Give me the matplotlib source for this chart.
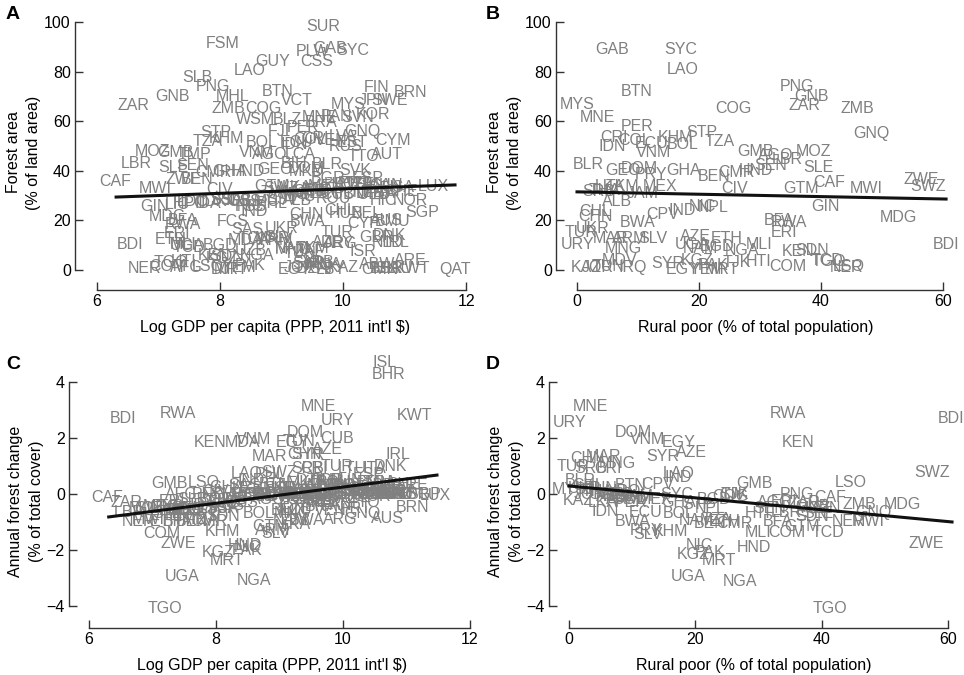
import numpy as np
import matplotlib
matplotlib.use('Agg')
import matplotlib.pyplot as plt

plt.rcParams['font.family'] = ['Liberation Sans', 'DejaVu Sans']

nan = np.nan

# countries for the GDP panels (A, C)
gdp_codes = ['FSM', 'SLB', 'PNG', 'GNB', 'ZAR', 'LAO', 'GUY', 'MHL', 'ZMB', 'COG',
             'BTN', 'VCT', 'WSM', 'STP', 'TZA', 'KHM', 'BOL', 'MOZ', 'GMB', 'TMP',
             'VNM', 'AGO', 'LBR', 'SLE', 'SEN', 'GHA', 'HND', 'CMR', 'ZWE', 'BEN',
             'CAF', 'MWI', 'GTM', 'CIV', 'GIN', 'MDG', 'ERI', 'UGA', 'BGD', 'BDI',
             'KEN', 'SDN', 'NGA', 'TGO', 'NER', 'AFG', 'MRT', 'KGZ', 'PAK', 'TCD',
             'ETH', 'RWA', 'LSO', 'MLI', 'BFA', 'DJI', 'YEM', 'NIC', 'HTI', 'COM',
             'FCS', 'SAS', 'TON', 'IND', 'SUR', 'PLW', 'GAB', 'SYC', 'CSS', 'FIN',
             'BRN', 'SWE', 'MYS', 'KOR', 'JPN', 'SVN', 'PAN', 'MNE', 'BLZ', 'BRA',
             'PER', 'CRI', 'FJI', 'COL', 'ECU', 'RUS', 'EST', 'LVA', 'CYM', 'AUT',
             'TTO', 'LCA', 'VEN', 'BIH', 'GEO', 'DOM', 'IDN', 'GNQ', 'BLR', 'SVK',
             'MKD', 'BGR', 'ESP', 'LTU', 'PRT', 'CZE', 'HRV', 'CAN', 'EMU', 'LUX',
             'MEX', 'LKA', 'USA', 'DEU', 'SWZ', 'UMC', 'THA', 'SRB', 'CHE', 'ITA',
             'NZL', 'JAM', 'FRA', 'POL', 'WLD', 'CUB', 'OED', 'MIC', 'EAS', 'ROU',
             'HIC', 'NOR', 'ALB', 'LMC', 'SSF', 'PHL', 'CHL', 'SGP', 'HUN', 'BEL',
             'CHN', 'AUS', 'BMU', 'BWA', 'CYP', 'UKR', 'TUR', 'DNK', 'SLV', 'GBR',
             'MAR', 'ARM', 'AZE', 'NLD', 'ARG', 'IRL', 'URY', 'NAM', 'TKM', 'MNG',
             'ISR', 'ZAF', 'UZB', 'TUN', 'ARE', 'ARB', 'SYR', 'MNA', 'ABW', 'IRQ',
             'KAZ', 'JOR', 'DZA', 'SAU', 'ISL', 'BHR', 'KWT', 'QAT', 'OMN', 'EGY',
             'LBY', 'MDA', 'LIC', 'HPC', 'IDA', 'IDB', 'IDX', 'LDC', 'SST', 'OSS',
             'PSS', 'SSA']
log_gdp = [8.05, 7.63, 7.89, 7.22, 6.59, 8.49, 8.85, 8.20, 8.13, 8.70,
           8.93, 9.25, 8.57, 7.93, 7.80, 8.11, 8.68, 6.91, 7.27, 7.59,
           8.60, 8.81, 6.63, 7.24, 7.56, 8.16, 8.45, 7.89, 7.40, 7.63,
           6.29, 6.94, 8.85, 8.00, 6.94, 7.14, 7.30, 7.46, 8.00, 6.54,
           7.90, 8.11, 8.60, 7.20, 6.78, 7.46, 8.17, 8.03, 8.49, 7.50,
           7.20, 7.40, 7.80, 7.40, 7.40, 8.05, 8.30, 8.50, 7.40, 7.15,
           8.20, 8.45, 8.57, 8.56, 9.67, 9.50, 9.79, 10.16, 9.58, 10.55,
           11.09, 10.76, 10.08, 10.49, 10.50, 10.23, 9.90, 9.62, 9.09, 9.65,
           9.35, 9.55, 8.95, 9.45, 9.25, 10.05, 10.15, 10.00, 10.81, 10.72,
           10.33, 9.30, 9.80, 9.20, 8.90, 9.40, 9.20, 10.31, 9.75, 10.20,
           9.40, 9.75, 10.40, 10.15, 10.20, 10.25, 9.95, 10.70, 10.50, 11.46,
           9.70, 9.25, 10.90, 10.70, 9.00, 9.50, 9.60, 9.45, 10.95, 10.50,
           10.40, 9.00, 10.60, 10.10, 9.50, 9.91, 10.50, 9.20, 9.30, 9.85,
           10.65, 11.10, 9.25, 8.70, 8.10, 8.85, 9.95, 11.28, 10.05, 10.39,
           9.40, 10.70, 10.81, 9.43, 10.33, 9.00, 9.90, 10.75, 8.95, 10.55,
           8.85, 8.90, 9.75, 10.72, 9.95, 10.87, 9.91, 9.17, 9.50, 9.20,
           10.33, 9.45, 8.50, 9.30, 11.09, 9.60, 9.45, 9.70, 10.55, 9.60,
           10.00, 9.30, 9.50, 10.85, 10.66, 10.71, 11.13, 11.82, 10.60, 9.21,
           9.80, 8.41, 7.30, 7.50, 7.80, 8.30, 7.90, 7.55, 9.00, 8.40,
           8.50, 8.10]
forest_gdp = [91.5, 77.4, 73.8, 69.8, 66.5, 80.6, 83.9, 69.8, 65.3, 65.3,
              71.8, 68.5, 60.5, 55.6, 51.6, 53.2, 51.2, 47.6, 47.2, 46.4,
              47.2, 46.4, 43.1, 41.5, 42.3, 39.9, 39.9, 39.1, 36.3, 36.3,
              35.5, 32.7, 33.5, 32.5, 25.4, 21.4, 14.9, 9.7, 9.7, 10.1,
              6.0, 5.6, 6.0, 3.2, 0.8, 1.2, 0.2, 4.5, 2.0, 9.0,
              12.2, 18.5, 1.5, 10.2, 20.0, 0.2, 1.0, 25.5, 3.5, 1.4,
              19.5, 16.5, 12.5, 23.7, 98.0, 87.9, 89.1, 88.5, 83.9, 73.4,
              71.4, 68.5, 66.9, 62.5, 68.5, 61.3, 61.7, 61.3, 60.5, 59.5,
              57.5, 53.0, 55.7, 52.7, 51.5, 49.8, 51.5, 54.0, 52.4, 46.4,
              45.6, 46.4, 52.3, 42.8, 40.6, 41.0, 50.5, 56.0, 42.7, 40.2,
              39.8, 37.0, 36.8, 34.8, 34.7, 34.5, 34.4, 34.1, 34.0, 33.5,
              33.5, 33.4, 33.3, 32.8, 33.0, 32.4, 32.1, 31.8, 31.7, 31.6,
              31.4, 31.1, 31.0, 30.8, 30.8, 30.6, 30.6, 30.6, 29.6, 29.0,
              28.2, 28.0, 28.2, 27.6, 28.0, 27.0, 23.8, 23.0, 22.6, 22.6,
              22.4, 19.9, 19.4, 19.4, 18.7, 16.7, 15.0, 14.0, 13.1, 13.0,
              12.6, 11.7, 11.2, 10.9, 10.8, 10.9, 10.5, 8.8, 8.8, 8.1,
              7.6, 7.6, 7.7, 6.7, 4.0, 3.0, 2.7, 2.4, 2.3, 1.9,
              1.2, 1.1, 0.8, 0.5, 0.5, 0.7, 0.4, 0.0, 0.0, 0.1,
              0.1, 12.0, 26.5, 27.0, 27.0, 28.0, 27.5, 27.5, 28.5, 27.6,
              25.5, 28.5]
change_gdp = [0.0, -0.2, 0.0, -0.45, -0.29, 0.75, 0.0, nan, -0.3, -0.1,
              0.35, 0.0, 0.0, -0.6, -0.9, -1.33, -0.68, -0.5, 0.39, -0.9,
              1.97, -0.2, -0.65, -0.7, -0.5, 0.25, -1.86, -1.0, -1.76, -1.0,
              -0.14, -0.9, -1.18, 0.1, -0.5, -0.45, -0.28, -2.94, -0.2, 2.69,
              1.83, -0.8, -3.08, -4.09, -1.0, 0.0, -2.37, -2.11, -2.04, -0.6,
              -1.0, 2.9, 0.43, -0.6, -1.0, nan, nan, -1.9, -0.75, -1.4,
              -0.4, 0.3, 0.0, 0.5, 0.0, 0.0, 0.0, 0.0, 0.0, 0.0,
              -0.47, 0.0, -0.1, -0.1, 0.0, 0.1, -0.4, 3.12, -0.6, -0.45,
              -0.2, 0.9, 0.3, -0.2, -0.6, 0.0, 0.1, 0.3, 0.0, 0.1,
              -0.3, 0.0, -0.6, 0.0, 0.0, 2.19, -0.5, -0.68, 0.5, 0.0,
              0.4, 0.5, 0.7, 0.9, -0.5, 0.1, 0.2, 0.0, 0.4, -0.04,
              -0.3, -1.1, 0.1, 0.0, 0.79, 0.1, 0.1, 0.9, 0.35, 0.9,
              0.0, -0.1, 0.4, 0.3, -0.1, 2.0, 0.1, 0.0, 0.2, 0.4,
              0.05, 0.0, -0.1, -0.1, -0.5, 0.7, 0.3, 0.0, 0.5, 0.15,
              1.4, -0.86, 0.0, -0.93, 0.2, 0.2, 1.0, 1.0, -1.4, 0.3,
              1.33, -1.3, 1.58, 0.15, -0.9, 1.4, 2.62, -0.93, 0.0, -0.7,
              0.1, 0.0, 0.2, 1.9, 0.3, -0.3, 1.4, 0.3, 0.0, 0.0,
              -0.15, 0.0, 0.5, 0.0, 4.73, 4.27, 2.8, nan, nan, 1.83,
              nan, 1.83, -0.6, -0.6, -0.4, -0.2, -0.5, -0.55, 0.2, -0.3,
              0.0, -0.5]

# countries for the rural poverty panels (B, D)
rural_codes = ['GAB', 'SYC', 'LAO', 'BTN', 'MYS', 'MNE', 'PER', 'CRI', 'COL', 'IDN',
               'ECU', 'VNM', 'KHM', 'BOL', 'STP', 'TZA', 'COG', 'BLR', 'GEO', 'DOM',
               'PRY', 'GHA', 'BEN', 'CMR', 'LKA', 'TKM', 'MEX', 'JAM', 'ALB', 'CIV',
               'CHL', 'CHN', 'BWA', 'CPV', 'IND', 'NIC', 'NPL', 'TUR', 'URY', 'MAR',
               'ARM', 'SLV', 'MNG', 'AZE', 'ETH', 'NAM', 'BGD', 'MDV', 'KAZ', 'JOR',
               'TUN', 'IRQ', 'SYR', 'KGZ', 'EGY', 'YEM', 'MRT', 'TJK', 'PAK', 'NGA',
               'UGA', 'PNG', 'GNB', 'ZAR', 'ZMB', 'GNQ', 'GMB', 'AGO', 'MOZ', 'LBR',
               'SEN', 'HND', 'SLE', 'CAF', 'GTM', 'MWI', 'ZWE', 'SWZ', 'GIN', 'MDG',
               'BFA', 'RWA', 'KEN', 'SDN', 'NER', 'LSO', 'BDI', 'HTI', 'MLI', 'COM',
               'TGO', 'TCD', 'ERI', 'UKR', 'THA', 'SRB']
rural_poor = [5.7, 17.0, 17.4, 9.7, 0.1, 3.4, 9.8, 6.1, 9.5, 5.8,
              12.2, 12.5, 16.1, 17.3, 20.4, 23.4, 25.6, 1.8, 7.5, 10.2,
              12.2, 17.4, 22.4, 26.1, 5.4, 7.5, 13.6, 10.8, 6.6, 25.9,
              3.0, 3.0, 10.0, 14.1, 17.2, 20.6, 22.3, 0.6, 0.1, 5.5,
              8.7, 12.4, 7.6, 19.4, 24.6, 20.2, 22.9, 7.0, 1.5, 3.3,
              5.0, 9.2, 14.8, 19.7, 17.4, 21.3, 23.8, 26.2, 22.3, 27.0,
              18.8, 36.0, 38.5, 37.3, 45.9, 48.2, 29.3, 32.5, 38.7, 34.4,
              31.7, 29.3, 39.5, 41.3, 36.8, 47.4, 56.5, 57.5, 40.7, 52.7,
              33.1, 34.7, 36.3, 38.5, 44.2, 44.5, 60.5, 29.8, 29.9, 34.5,
              41.3, 41.0, 34.0, 2.5, 4.5, 3.5]
forest_rural = [88.7, 88.7, 81.0, 71.8, 66.9, 61.3, 57.7, 53.6, 52.4, 49.6,
                50.8, 47.2, 53.6, 50.4, 55.6, 51.6, 65.3, 42.7, 40.3, 41.1,
                38.3, 40.3, 37.5, 39.1, 33.5, 33.5, 33.5, 31.0, 27.8, 32.7,
                23.4, 21.4, 19.0, 22.2, 23.8, 25.4, 25.0, 15.3, 10.1, 12.5,
                12.5, 12.5, 8.5, 13.3, 12.5, 8.5, 9.3, 4.0, 1.2, 1.2,
                1.5, 1.2, 2.5, 4.0, 0.1, 0.1, 0.2, 3.2, 2.0, 8.0,
                10.1, 73.8, 69.8, 66.5, 65.3, 55.2, 47.6, 46.0, 47.6, 44.5,
                42.3, 40.3, 41.5, 35.1, 32.7, 32.7, 36.3, 33.5, 25.4, 21.0,
                19.8, 19.2, 7.3, 7.7, 0.9, 1.5, 10.1, 3.5, 10.2, 1.4,
                3.5, 4.0, 15.0, 16.7, 32.1, 31.8]
change_rural = [0.0, 0.0, 0.75, 0.32, 0.15, 3.12, -0.3, 0.93, -0.2, -0.61,
                -0.65, 1.97, -1.33, -0.68, -0.39, -0.9, -0.1, 0.5, 0.0, 2.19,
                -1.29, -0.3, -1.04, -1.04, -0.3, -0.1, -0.2, -0.1, -0.1, 0.0,
                0.3, 1.29, -1.0, 0.36, 0.61, -1.86, -0.5, 0.97, 2.58, 1.33,
                -0.2, -1.45, 1.08, 1.5, -1.0, -0.93, -0.2, 0.0, -0.22, 0.0,
                0.2, 0.1, 1.33, -2.15, 1.83, nan, -2.37, 0.0, -2.08, -3.12,
                -2.94, 0.0, -0.45, -0.29, -0.36, -0.65, 0.39, -0.29, -0.5, -0.65,
                -0.5, -1.9, -0.7, -0.11, -1.15, -1.0, -1.76, 0.79, -0.5, -0.39,
                -1.0, 2.9, 1.83, -0.8, -1.0, 0.43, 2.69, -0.68, -1.36, -1.36,
                -4.09, -1.36, -0.28, 0.2, 0.1, 0.9]

# fitted regression lines (end points)
fit_a_x, fit_a_y = [6.31, 11.82], [29.4, 34.3]
fit_b_x, fit_b_y = [0.0, 60.5], [31.5, 28.6]
fit_c_x, fit_c_y = [6.31, 11.48], [-0.82, 0.68]
fit_d_x, fit_d_y = [0.0, 60.6], [0.29, -1.0]

label_color = '#808080'
W, H = 964, 675


def panel(rect, codes, xs, ys, fit_x, fit_y, xlim, ylim, xticks, yticks,
          xlabel, ylabel, letter, letter_xy):
    ax = fig.add_axes(rect)
    for c, x, y in zip(codes, xs, ys):
        if np.isnan(y):
            continue
        ax.text(x, y, c, ha='center', va='center', fontsize=11.5,
                color=label_color)
    ax.plot(fit_x, fit_y, color='#111111', lw=2.2, zorder=5)
    ax.set_xlim(xlim)
    ax.set_ylim(ylim)
    ax.set_xticks(xticks)
    ax.set_yticks(yticks)
    ax.spines['top'].set_visible(False)
    ax.spines['right'].set_visible(False)
    ax.spines['left'].set_bounds(yticks[0], yticks[-1])
    ax.spines['bottom'].set_bounds(xticks[0], xticks[-1])
    for s in ('left', 'bottom'):
        ax.spines[s].set_color('#333333')
        ax.spines[s].set_linewidth(1.0)
    ax.tick_params(direction='in', length=6, width=1, labelsize=11.5,
                   color='#333333', pad=3)
    ax.set_xlabel(xlabel, fontsize=11.5, labelpad=8)
    ax.set_ylabel(ylabel, fontsize=11.5, labelpad=2, linespacing=1.45)
    fig.text(letter_xy[0] / W, 1 - letter_xy[1] / H, letter,
             fontsize=14, fontweight='bold', va='top', ha='left')
    return ax


fig = plt.figure(figsize=(9.64, 6.75), dpi=100)

gdp_label = "Log GDP per capita (PPP, 2011 int'l $)"
rural_label = 'Rural poor (% of total population)'

panel([0.0778, 0.5704, 0.415, 0.4074], gdp_codes, log_gdp, forest_gdp,
      fit_a_x, fit_a_y, (5.642, 12.146), (-8.06, 102.8), [6, 8, 10, 12],
      [0, 20, 40, 60, 80, 100], gdp_label, 'Forest area\n(% of land area)',
      'A', (6, 6))
panel([0.5768, 0.5704, 0.4139, 0.4074], rural_codes, rural_poor, forest_rural,
      fit_b_x, fit_b_y, (-3.44, 61.97), (-8.06, 102.8), [0, 20, 40, 60],
      [0, 20, 40, 60, 80, 100], rural_label, 'Forest area\n(% of land area)',
      'B', (486, 6))
panel([0.0716, 0.0696, 0.4212, 0.3748], gdp_codes, log_gdp, change_gdp,
      fit_c_x, fit_c_y, (5.685, 12.08), (-4.80, 4.265), [6, 8, 10, 12],
      [-4, -2, 0, 2, 4], gdp_label, 'Annual forest change\n(% of total cover)',
      'C', (6, 356))
panel([0.5695, 0.0696, 0.4243, 0.3748], rural_codes, rural_poor, change_rural,
      fit_d_x, fit_d_y, (-3.16, 61.55), (-4.80, 4.265), [0, 20, 40, 60],
      [-4, -2, 0, 2, 4], rural_label, 'Annual forest change\n(% of total cover)',
      'D', (486, 356))

fig.savefig('out.png', dpi=100)
